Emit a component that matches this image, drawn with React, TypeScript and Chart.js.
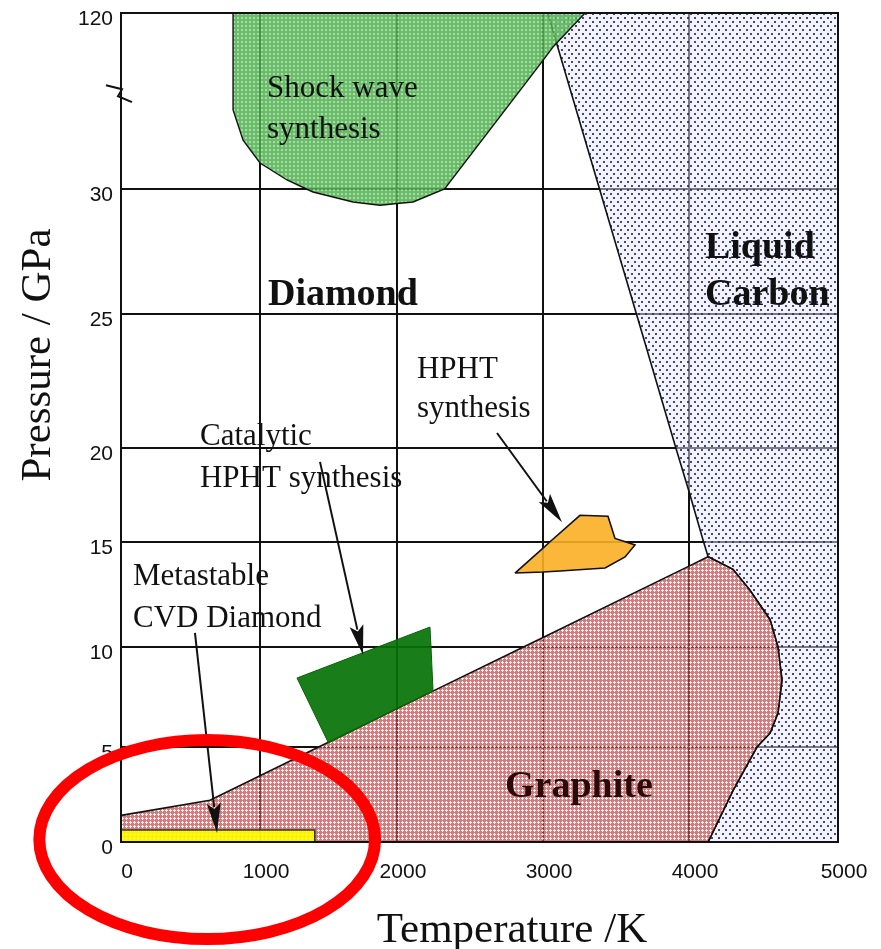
import React, { useEffect, useRef } from 'react';
import { Chart, LinearScale, registerables } from 'chart.js';

// ---------- axes ----------
const temperatureTicks = [0, 1000, 2000, 3000, 4000, 5000];
const pressureTicks = [0, 5, 10, 15, 20, 25, 30, 120];
// where each tick sits along its (non-uniform) axis, 0 = start, 1 = end
const temperatureTickFractions = [0, 0.1939, 0.3849, 0.5886, 0.7922, 1];
const pressureTickFractions = [0, 0.1146, 0.2352, 0.3619, 0.4753, 0.6369, 0.7877, 1];

// ---------- regions (T in K, P in GPa) ----------
const liquidT = [3032, 3387, 3640, 3910, 4000, 4098, 4128, 4295, 4409, 4544, 4597, 4624, 4597, 4544, 4456, 4295, 4128, 5000, 5000];
const liquidP = [120, 30, 25, 20, 17.68, 15, 14.3, 13.7, 12.7, 11.3, 10, 8.35, 6.7, 5.7, 5, 2.7, 0, 0, 120];

const graphiteT = [0, 640, 1000, 1428, 2000, 2866, 3000, 4000, 4128, 4295, 4409, 4544, 4597, 4624, 4597, 4544, 4456, 4295, 4128, 0];
const graphiteP = [1.4, 2.2, 3.49, 5, 6.92, 10, 10.45, 13.85, 14.3, 13.7, 12.7, 11.3, 10, 8.35, 6.7, 5.7, 5, 2.7, 0, 0];

const shockT = [806, 806, 878, 1000, 1197, 1339, 1387, 1679, 1876, 2000, 2110, 2326, 3000, 3068, 3288];
const shockP = [120, 70.4, 55, 43.3, 34.6, 30, 29.88, 29.48, 29.35, 29.42, 29.48, 30, 95.8, 102.6, 120];

const catalyticT = [1270, 1860, 2000, 2226, 2233, 2247, 2000, 1500];
const catalyticP = [8.45, 10, 10.35, 10.95, 10, 7.79, 6.92, 5.2];

const hphtT = [2808, 3000, 3046, 3253, 3445, 3493, 3569, 3630, 3562, 3425, 3116, 3000];
const hphtP = [13.52, 14.71, 15, 16.42, 16.37, 15.19, 15, 14.86, 14.29, 13.76, 13.62, 13.57];

const cvdT = [0, 1400, 1400, 0];
const cvdP = [0, 0, 0.63, 0.63];

// ---------- annotations ----------
const labelTexts = ['Shock wave', 'synthesis', 'Diamond', 'Liquid', 'Carbon', 'HPHT', 'synthesis', 'Catalytic', 'HPHT synthesis', 'Metastable', 'CVD Diamond', 'Graphite'];
const labelT = [1051, 1051, 1058, 4107, 4107, 2137, 2137, 568, 568, 86, 86, 2740];
const labelP = [77.0, 56.1, 25.36, 27.26, 25.36, 22.6, 21.16, 20.1, 17.95, 12.95, 10.95, 2.37];
const labelBold = [false, false, true, true, true, false, false, false, false, false, false, true];

const arrowFromT = [532, 1438, 2685];
const arrowFromP = [10.67, 19.26, 20.56];
const arrowToT = [691, 1752, 3130];
const arrowToP = [0.47, 9.6, 16.05];

const circleCenterT = 620;
const circleCenterP = 0.13;
const circleEdgeT = 1840;
const circleTopP = 5.35;

const axisBreakP = 79;

const xTitle = 'Temperature /K';
const yTitle = 'Pressure / GPa';

const axisStops: Record<string, { values: number[]; fracs: number[] }> = {
  x: { values: temperatureTicks, fracs: temperatureTickFractions },
  y: { values: pressureTicks, fracs: pressureTickFractions },
};

class PiecewiseScale extends LinearScale {
  static id = 'piecewise';
  static defaults = LinearScale.defaults;
  stopsDef() {
    return axisStops[(this as any).id];
  }
  buildTicks() {
    const s = this.stopsDef();
    (this as any).start = (this as any).min;
    (this as any).end = (this as any).max;
    return s.values.map((v) => ({ value: v }));
  }
  toDecimal(value: number) {
    const { values, fracs } = this.stopsDef();
    let i = 0;
    while (i < values.length - 2 && value > values[i + 1]) i++;
    const t = (value - values[i]) / (values[i + 1] - values[i]);
    return fracs[i] + t * (fracs[i + 1] - fracs[i]);
  }
  fromDecimal(dec: number) {
    const { values, fracs } = this.stopsDef();
    let i = 0;
    while (i < fracs.length - 2 && dec > fracs[i + 1]) i++;
    const t = (dec - fracs[i]) / (fracs[i + 1] - fracs[i]);
    return values[i] + t * (values[i + 1] - values[i]);
  }
  getPixelForValue(value: any) {
    if (value === null || value === undefined || Number.isNaN(+value)) return NaN;
    return (this as any).getPixelForDecimal(this.toDecimal(+value));
  }
  getValueForPixel(pixel: number) {
    return this.fromDecimal((this as any).getDecimalForPixel(pixel));
  }
}

Chart.register(...registerables, PiecewiseScale as any);

function makeTile(w: number, h: number, paint: (c: CanvasRenderingContext2D) => void) {
  const c = document.createElement('canvas');
  c.width = w;
  c.height = h;
  const g = c.getContext('2d')!;
  paint(g);
  return c;
}

function makePatterns(ctx: CanvasRenderingContext2D) {
  const graphite = makeTile(4, 4, (g) => {
    g.fillStyle = 'rgba(190,75,75,0.72)';
    g.fillRect(0, 0, 4, 4);
    g.clearRect(1, 2, 3, 1);
    g.clearRect(2, 1, 1, 3);
    g.fillStyle = 'rgba(255,240,240,0.85)';
    g.fillRect(1, 2, 3, 1);
    g.fillRect(2, 1, 1, 3);
  });
  const liquid = makeTile(7, 8, (g) => {
    g.fillStyle = 'rgba(232,232,252,0.5)';
    g.fillRect(0, 0, 7, 8);
    g.fillStyle = 'rgba(40,40,110,0.85)';
    g.fillRect(1, 1, 2, 2);
    g.fillRect(4, 5, 2, 2);
  });
  const shock = makeTile(4, 4, (g) => {
    g.fillStyle = 'rgba(80,175,80,0.85)';
    g.fillRect(0, 0, 4, 4);
    g.clearRect(1, 1, 2, 2);
    g.fillStyle = 'rgba(150,215,150,0.85)';
    g.fillRect(1, 1, 2, 2);
  });
  return {
    graphite: ctx.createPattern(graphite, 'repeat'),
    liquid: ctx.createPattern(liquid, 'repeat'),
    shock: ctx.createPattern(shock, 'repeat'),
  };
}

const pts = (T: number[], P: number[]) => {
  const d = T.map((t, i) => ({ x: t, y: P[i] }));
  d.push({ x: T[0], y: P[0] });
  return d;
};

const regionFillPlugin = {
  id: 'regionFill',
  beforeDatasetDraw(chart: any, args: any) {
    const ds = chart.data.datasets[args.index];
    if (!ds.regionFill) return;
    const { ctx, chartArea: a } = chart;
    const points = args.meta.data;
    ctx.save();
    ctx.beginPath();
    ctx.rect(a.left, a.top, a.right - a.left, a.bottom - a.top);
    ctx.clip();
    ctx.beginPath();
    points.forEach((p: any, i: number) => (i ? ctx.lineTo(p.x, p.y) : ctx.moveTo(p.x, p.y)));
    ctx.closePath();
    ctx.fillStyle = ds.regionFill;
    ctx.fill();
    ctx.restore();
  },
};

const annotationPlugin = {
  id: 'annotations',
  afterDatasetsDraw(chart: any) {
    const { ctx, chartArea: a } = chart;
    const x = chart.scales.x;
    const y = chart.scales.y;
    ctx.save();
    // frame on top
    ctx.strokeStyle = '#111';
    ctx.lineWidth = 2;
    ctx.strokeRect(a.left, a.top, a.right - a.left, a.bottom - a.top);

    // labels
    ctx.textAlign = 'left';
    ctx.textBaseline = 'alphabetic';
    labelTexts.forEach((t, i) => {
      ctx.font = labelBold[i] ? 'bold 38px "Liberation Serif"' : '31px "Liberation Serif"';
      ctx.fillStyle = t === 'Graphite' ? '#2a0a0a' : '#111';
      ctx.fillText(t, x.getPixelForValue(labelT[i]), y.getPixelForValue(labelP[i]));
    });

    // arrows
    ctx.strokeStyle = '#111';
    ctx.fillStyle = '#111';
    arrowFromT.forEach((_, i) => {
      const x0 = x.getPixelForValue(arrowFromT[i]);
      const y0 = y.getPixelForValue(arrowFromP[i]);
      const x1 = x.getPixelForValue(arrowToT[i]);
      const y1 = y.getPixelForValue(arrowToP[i]);
      const len = Math.hypot(x1 - x0, y1 - y0);
      const ux = (x1 - x0) / len;
      const uy = (y1 - y0) / len;
      const hl = 30;
      const hw = 7;
      const bx = x1 - ux * hl;
      const by = y1 - uy * hl;
      ctx.lineWidth = 2;
      ctx.beginPath();
      ctx.moveTo(x0, y0);
      ctx.lineTo(bx + ux * 4, by + uy * 4);
      ctx.stroke();
      ctx.beginPath();
      ctx.moveTo(x1, y1);
      ctx.lineTo(bx - uy * hw, by + ux * hw);
      ctx.lineTo(bx + ux * 6, by + uy * 6);
      ctx.lineTo(bx + uy * hw, by - ux * hw);
      ctx.closePath();
      ctx.fill();
    });
    ctx.restore();
  },
  afterDraw(chart: any) {
    const { ctx, chartArea: a } = chart;
    const x = chart.scales.x;
    const y = chart.scales.y;
    ctx.save();
    // axis break mark
    const bx = a.left;
    const by = y.getPixelForValue(axisBreakP);
    ctx.strokeStyle = '#111';
    ctx.lineWidth = 2;
    ctx.beginPath();
    ctx.moveTo(bx - 15, by - 8);
    ctx.lineTo(bx + 1, by - 4);
    ctx.lineTo(bx - 3, by + 3);
    ctx.lineTo(bx + 11, by + 9);
    ctx.stroke();

    // axis titles
    ctx.fillStyle = '#111';
    ctx.font = '43px "Liberation Serif"';
    ctx.textAlign = 'center';
    ctx.textBaseline = 'alphabetic';
    ctx.fillText(xTitle, 512, 942);
    ctx.save();
    ctx.translate(50, 355);
    ctx.rotate(-Math.PI / 2);
    ctx.fillText(yTitle, 0, 0);
    ctx.restore();

    // red ellipse highlight
    const cx = x.getPixelForValue(circleCenterT);
    const cy = y.getPixelForValue(circleCenterP);
    const rx = x.getPixelForValue(circleEdgeT) - cx;
    const ry = cy - y.getPixelForValue(circleTopP);
    ctx.strokeStyle = '#ff0000';
    ctx.lineWidth = 12;
    ctx.beginPath();
    ctx.ellipse(cx, cy, rx, ry, 0, 0, Math.PI * 2);
    ctx.stroke();
    ctx.restore();
  },
};

export default function App() {
  const ref = useRef<HTMLCanvasElement | null>(null);
  useEffect(() => {
    const canvas = ref.current!;
    const ctx = canvas.getContext('2d')!;
    const pat = makePatterns(ctx);
    const base = {
      showLine: true,
      pointRadius: 0,
      pointHoverRadius: 0,
      tension: 0,
      fill: false,
      borderColor: '#111',
      borderWidth: 1.6,
    };
    const chart = new Chart(canvas, {
      type: 'scatter',
      data: {
        datasets: [
          { ...base, label: 'Liquid Carbon', data: pts(liquidT, liquidP), regionFill: pat.liquid, order: 10 } as any,
          { ...base, label: 'Graphite', data: pts(graphiteT, graphiteP), regionFill: pat.graphite, order: 9 } as any,
          { ...base, label: 'Shock wave synthesis', data: pts(shockT, shockP), regionFill: pat.shock, borderWidth: 1.4, order: 8 } as any,
          { ...base, label: 'Catalytic HPHT synthesis', data: pts(catalyticT, catalyticP), regionFill: 'rgba(5,115,5,0.92)', borderColor: 'rgba(5,100,5,1)', borderWidth: 1, order: 7 } as any,
          { ...base, label: 'HPHT synthesis', data: pts(hphtT, hphtP), regionFill: 'rgba(250,175,35,0.9)', borderWidth: 1.6, order: 6 } as any,
          { ...base, label: 'Metastable CVD Diamond', data: pts(cvdT, cvdP), regionFill: 'rgba(255,255,0,0.9)', borderColor: '#333', borderWidth: 1.6, order: 5 } as any,
        ],
      },
      options: {
        responsive: false,
        animation: false,
        events: [],
        layout: { padding: { left: 0, top: 13, right: 43, bottom: 0 } },
        plugins: { legend: { display: false }, tooltip: { enabled: false } },
        scales: {
          x: {
            type: 'piecewise' as any,
            min: 0,
            max: 5000,
            grid: { color: '#111', lineWidth: 2, drawTicks: false },
            border: { color: '#111', width: 2 },
            ticks: {
              padding: 18,
              labelOffset: 6,
              autoSkip: false,
              maxRotation: 0,
              color: '#111',
              font: { family: 'Liberation Sans', size: 21 },
              callback: (v: any) => String(v),
            },
            afterFit: (s: any) => {
              s.height = 107;
              s.paddingLeft = 0;
              s.paddingRight = 0;
            },
          },
          y: {
            type: 'piecewise' as any,
            min: 0,
            max: 120,
            grid: { color: '#111', lineWidth: 2, drawTicks: false },
            border: { color: '#111', width: 2 },
            ticks: {
              padding: 8,
              labelOffset: 6,
              autoSkip: false,
              color: '#111',
              font: { family: 'Liberation Sans', size: 21 },
              callback: (v: any) => String(v),
            },
            afterFit: (s: any) => {
              s.width = 121;
              s.paddingTop = 0;
              s.paddingBottom = 0;
            },
          },
        } as any,
      },
      plugins: [regionFillPlugin, annotationPlugin],
    });
    return () => chart.destroy();
  }, []);
  return (
    <div style={{ position: 'absolute', left: 0, top: 0, width: 881, height: 949, background: '#fff' }}>
      <canvas ref={ref} width={881} height={949} style={{ display: 'block', width: 881, height: 949 }} />
    </div>
  );
}
